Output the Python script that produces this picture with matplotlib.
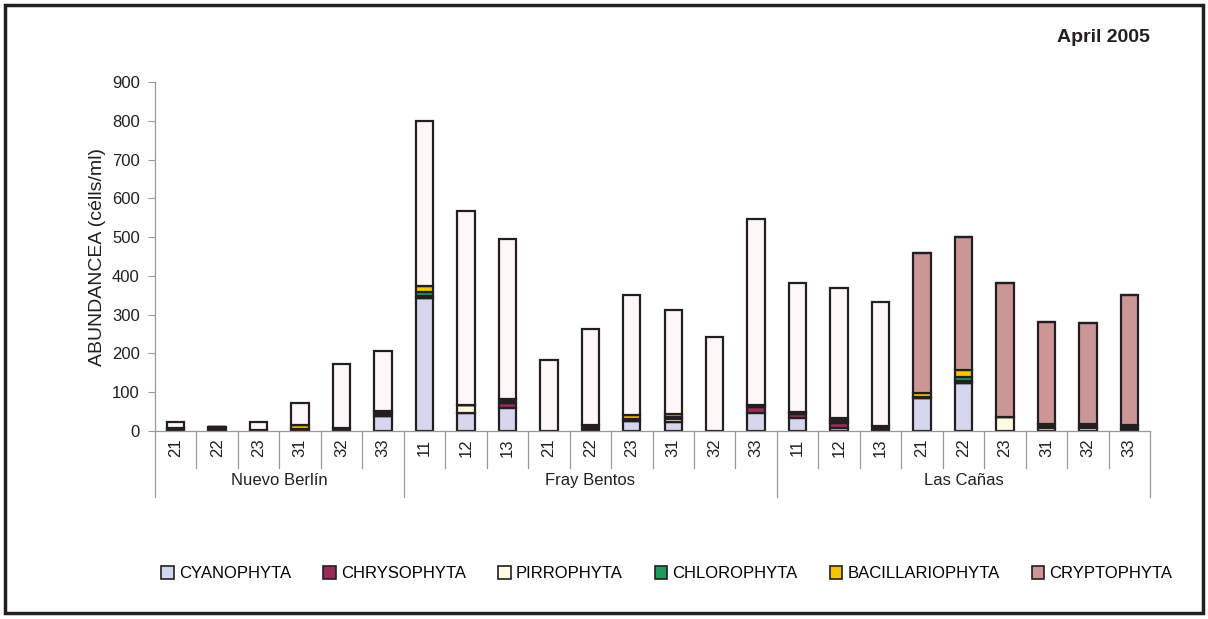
import matplotlib
matplotlib.use("Agg")
import matplotlib.pyplot as plt
import matplotlib.patches as mpatches
import matplotlib.transforms as mtransforms
import numpy as np

plt.rcParams["font.family"] = ["Liberation Sans", "DejaVu Sans"]

# sites and stations
groups = ["Nuevo Berlín", "Fray Bentos", "Las Cañas"]
stations = [
    ["21", "22", "23", "31", "32", "33"],
    ["11", "12", "13", "21", "22", "23", "31", "32", "33"],
    ["11", "12", "13", "21", "22", "23", "31", "32", "33"],
]

# abundance per group of algae (cells/ml), bottom to top of each stack
cyanophyta = [0, 0, 0, 0, 0, 39,
              342, 46, 60, 0, 0, 26, 24, 0, 46,
              34, 8, 0, 84, 123, 0, 0, 0, 0]
chrysophyta = [0, 0, 0, 0, 0, 0,
               0, 0, 13, 0, 0, 0, 0, 0, 15,
               11, 12, 0, 0, 0, 0, 0, 0, 0]
pirrophyta = [3, 0, 0, 5, 0, 0,
              0, 20, 0, 0, 0, 0, 8, 0, 0,
              0, 6, 0, 0, 0, 37, 8, 8, 5]
dark = [0, 10, 3, 0, 8, 8,
        6, 0, 10, 0, 15, 4, 4, 0, 6,
        5, 8, 14, 4, 7, 0, 11, 11, 10]
chlorophyta = [0, 0, 0, 0, 0, 0,
               11, 0, 0, 0, 0, 0, 0, 0, 0,
               0, 0, 0, 0, 10, 0, 0, 0, 0]
bacillariophyta = [5, 0, 0, 10, 0, 5,
                   15, 0, 0, 0, 0, 11, 9, 0, 0,
                   0, 0, 0, 9, 17, 0, 0, 0, 0]
cryptophyta = [0, 0, 0, 0, 0, 0,
               0, 0, 0, 0, 0, 0, 0, 0, 0,
               0, 0, 0, 361, 343, 345, 261, 259, 337]
other = [15, 0, 20, 56, 165, 155,
         426, 502, 411, 183, 247, 310, 267, 243, 481,
         332, 336, 319, 0, 0, 0, 0, 0, 0]

series = [
    ("CYANOPHYTA", cyanophyta, "#d6d6ee"),
    ("CHRYSOPHYTA", chrysophyta, "#9a2a5a"),
    ("PIRROPHYTA", pirrophyta, "#fdfbe2"),
    (None, dark, "#231f20"),
    ("CHLOROPHYTA", chlorophyta, "#1f9a5c"),
    ("BACILLARIOPHYTA", bacillariophyta, "#f5c400"),
    ("CRYPTOPHYTA", cryptophyta, "#cc9596"),
    (None, other, "#fdf7f7"),
]

fig = plt.figure(figsize=(12.08, 6.19), dpi=100)
ax = fig.add_axes([0.1283, 0.3037, 0.8237, 0.5638])

n = sum(len(s) for s in stations)
x = np.arange(n)
bottom = np.zeros(n)
handles = []
for name, vals, color in series:
    vals = np.array(vals, dtype=float)
    ax.bar(x, vals, width=0.42, bottom=bottom, color=color,
           edgecolor="#231f20", linewidth=1.6, zorder=2)
    bottom += vals
    if name:
        handles.append(mpatches.Patch(facecolor=color, edgecolor="#231f20",
                                      linewidth=1.2, label=name))

ax.set_xlim(-0.5, n - 0.5)
ax.set_ylim(0, 900)
ax.set_yticks(np.arange(0, 901, 100))
ax.tick_params(axis="y", labelsize=12, labelcolor="#231f20", length=5,
               width=0.8, pad=6, color="#999999")
ax.set_xticks([])
for side in ["top", "right"]:
    ax.spines[side].set_visible(False)
for side in ["left", "bottom"]:
    ax.spines[side].set_color("#999999")
    ax.spines[side].set_linewidth(0.9)

ax.set_ylabel("ABUNDANCEA (célls/ml)", fontsize=14, color="#231f20",
              labelpad=4)

# two-level category axis
trans = mtransforms.blended_transform_factory(ax.transData, ax.transAxes)
line_kw = dict(transform=trans, color="#999999", lw=0.9, clip_on=False)
i = 0
for g, sts in zip(groups, stations):
    ax.plot([i - 0.5, i - 0.5], [0, -0.19], **line_kw)
    for j, s in enumerate(sts):
        if j > 0:
            ax.plot([i + j - 0.5, i + j - 0.5], [0, -0.105], **line_kw)
        ax.text(i + j, -0.048, s, transform=trans, rotation=90,
                ha="center", va="center", fontsize=12, color="#231f20")
    ax.text(i + (len(sts) - 1) / 2, -0.143, g, transform=trans,
            ha="center", va="center", fontsize=12, color="#231f20")
    i += len(sts)
ax.plot([n - 0.5, n - 0.5], [0, -0.19], **line_kw)

fig.legend(handles=handles, loc="lower left",
           bbox_to_anchor=(0.128, 0.05, 0.848, 0.04), mode="expand",
           ncol=6, frameon=False, fontsize=12, handlelength=0.75,
           handleheight=0.75, handletextpad=0.3, borderaxespad=0)

fig.text(0.952, 0.94, "April 2005", ha="right", va="center",
         fontsize=14, fontweight="bold", color="#231f20")

# frame around the whole figure
fig.patches.append(mpatches.Rectangle((0.0045, 0.009), 0.9915, 0.983,
                                      transform=fig.transFigure, fill=False,
                                      edgecolor="#231f20", linewidth=2.5))

fig.savefig("out.png", dpi=100, facecolor="white")
